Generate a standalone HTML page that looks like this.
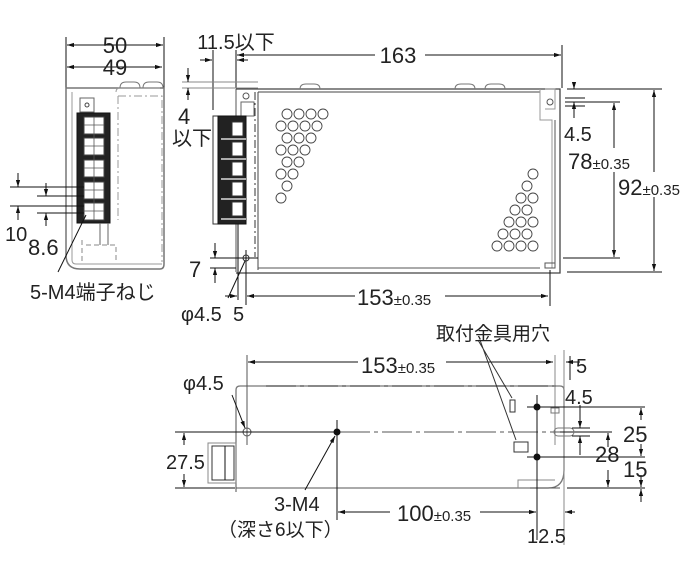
<!DOCTYPE html>
<html><head><meta charset="utf-8"><style>
html,body{margin:0;padding:0;background:#fff;width:692px;height:564px;overflow:hidden}
svg{display:block}
text{font-family:"Liberation Sans","Noto Sans CJK JP",sans-serif;fill:#222}
</style></head><body>
<svg width="692" height="564" viewBox="0 0 692 564" xmlns="http://www.w3.org/2000/svg">
<defs>
<marker id="a" viewBox="0 0 10 10" refX="10" refY="5" markerWidth="7" markerHeight="7" orient="auto-start-reverse"><path d="M0,2 L10,5 L0,8 z" fill="#111"/></marker>
</defs>
<g stroke="#111" stroke-width="1" fill="none">
<line x1="66" y1="37" x2="66" y2="90"/><line x1="164" y1="37" x2="164" y2="90"/>
<line x1="67" y1="45" x2="163" y2="45" marker-start="url(#a)" marker-end="url(#a)"/>
<line x1="67" y1="67" x2="162" y2="67" marker-start="url(#a)" marker-end="url(#a)"/>
<path d="M66,88 H164 V264 Q164,269 160,269 H80 Q66,269 66,255 Z" stroke="#777" stroke-width="1.5"/>
<path d="M72,92 V260 Q72,264 76,264 H162" stroke="#999"/>
<path d="M116,92 Q116,88 120,88 H160" stroke="#999"/>
<path d="M118,96 V220" stroke="#999" stroke-dasharray="8,3,2,3"/>
<path d="M118,96 H162 V262" stroke="#999" stroke-dasharray="8,3,2,3"/>
<path d="M82,240 V262 M86,245 H116 V262" stroke="#888" stroke-dasharray="5,3"/>
<rect x="80" y="98" width="14" height="14" stroke="#666"/><circle cx="87" cy="105" r="2" stroke="#444"/>
<path d="M120,88 q0,-6 6,-6 h8 q6,0 6,6 M143,88 q0,-6 6,-6 h8 q6,0 6,6" stroke="#777"/>
<rect x="77" y="113" width="33" height="110" fill="#222" stroke="#111"/>
<g fill="#fff" stroke="#444">
<rect x="84" y="117" width="20" height="17"/><rect x="84" y="138" width="20" height="17"/><rect x="84" y="160" width="20" height="17"/><rect x="84" y="182" width="20" height="17"/><rect x="84" y="203" width="20" height="17"/>
</g>
<g stroke="#555" stroke-width=".8"><path d="M94,117 V220 M84,125 H104 M84,146 H104 M84,168 H104 M84,190 H104 M84,211 H104"/></g>
<line x1="100" y1="223" x2="100" y2="245" stroke="#666"/><line x1="108" y1="223" x2="108" y2="245" stroke="#666"/>
<line x1="10" y1="187" x2="84" y2="187"/><line x1="10" y1="206" x2="84" y2="206"/>
<line x1="37" y1="196" x2="84" y2="196"/><line x1="37" y1="213" x2="84" y2="213"/>
<line x1="18" y1="173" x2="18" y2="187" marker-end="url(#a)"/><line x1="18" y1="220" x2="18" y2="206" marker-end="url(#a)"/>
<line x1="46" y1="183" x2="46" y2="196" marker-end="url(#a)"/><line x1="46" y1="226" x2="46" y2="213" marker-end="url(#a)"/>
<line x1="58" y1="272" x2="86" y2="215"/>
<line x1="200" y1="60" x2="212" y2="60" marker-end="url(#a)"/><line x1="248" y1="60" x2="237" y2="60" marker-end="url(#a)"/>
<line x1="213" y1="50" x2="213" y2="110"/><line x1="236" y1="50" x2="236" y2="88"/>
<line x1="237" y1="55" x2="375" y2="55" marker-start="url(#a)"/><line x1="425" y1="55" x2="561" y2="55" marker-end="url(#a)"/>
<line x1="562" y1="45" x2="562" y2="88"/>
<line x1="182" y1="82" x2="258" y2="82" stroke="#888"/><line x1="182" y1="88" x2="258" y2="88" stroke="#888"/>
<line x1="188" y1="68" x2="188" y2="82" marker-end="url(#a)"/><line x1="188" y1="100" x2="188" y2="88" marker-end="url(#a)"/>
<line x1="236" y1="89" x2="236" y2="272" stroke="#555"/>
<path d="M236,89 H560 V273 H236" stroke="#444" stroke-width="1.3"/>
<path d="M258,92 V270 M258,92 H540" stroke="#444"/>
<line x1="258" y1="268" x2="540" y2="268" stroke="#555"/>
<path d="M540,89 V120 H552 V268" stroke="#999"/>
<path d="M555,120 V268 H545 V263 H555" stroke="#555"/>
<line x1="255" y1="92" x2="255" y2="257" stroke="#333" stroke-dasharray="8,3,2,3"/>
<path d="M236,258 H258" stroke="#333" stroke-dasharray="4,3"/>
<rect x="241" y="102" width="13" height="14" stroke="#666"/><circle cx="246" cy="96" r="3" stroke="#555"/>
<path d="M300,89 q0,-5 6,-5 h8 q6,0 6,5 M455,89 q0,-5 6,-5 h8 q6,0 6,5 M485,89 q0,-5 6,-5 h8 q6,0 6,5" stroke="#777"/>
<circle cx="550" cy="102" r="3" stroke="#555"/><path d="M545,89 h10 v20 h-10" stroke="#999"/>
<rect x="213" y="116" width="33" height="108" fill="#fff" stroke="#333"/>
<rect x="218" y="116" width="28" height="108" fill="#222"/>
<g fill="#fff" stroke="#333"><rect x="232" y="122" width="11" height="14"/><rect x="232" y="142" width="11" height="14"/><rect x="232" y="162" width="11" height="14"/><rect x="232" y="182" width="11" height="14"/><rect x="232" y="202" width="11" height="14"/></g>
<g stroke="#fff" stroke-width="1.2"><path d="M221,139 H246 M221,159 H246 M221,179 H246 M221,199 H246 M221,219 H246"/></g>
<line x1="238" y1="224" x2="238" y2="300"/><line x1="246" y1="250" x2="246" y2="305"/>
<circle cx="246" cy="258" r="3" stroke="#333"/>
<line x1="210" y1="258" x2="258" y2="258"/><line x1="210" y1="268" x2="236" y2="268"/>
<line x1="215" y1="243" x2="215" y2="258" marker-end="url(#a)"/><line x1="215" y1="283" x2="215" y2="268" marker-end="url(#a)"/>
<line x1="228" y1="298" x2="245" y2="261"/>
<line x1="225" y1="296" x2="237" y2="296" marker-end="url(#a)"/>
<line x1="247" y1="296" x2="355" y2="296" marker-start="url(#a)"/><line x1="445" y1="296" x2="548" y2="296" marker-end="url(#a)"/>
<line x1="550" y1="270" x2="550" y2="306"/>
<line x1="565" y1="102" x2="620" y2="102"/><line x1="563" y1="258" x2="620" y2="258"/>
<line x1="567" y1="89" x2="662" y2="89"/><line x1="567" y1="272" x2="662" y2="272"/>
<line x1="614" y1="103" x2="614" y2="148" marker-start="url(#a)"/><line x1="614" y1="172" x2="614" y2="257" marker-end="url(#a)"/>
<line x1="654" y1="90" x2="654" y2="172" marker-start="url(#a)"/><line x1="654" y1="197" x2="654" y2="271" marker-end="url(#a)"/>
<line x1="574" y1="82" x2="574" y2="89" marker-end="url(#a)"/><line x1="574" y1="118" x2="574" y2="102" marker-end="url(#a)"/>
<line x1="565" y1="98" x2="585" y2="98"/><line x1="565" y1="106" x2="585" y2="106"/>
<g stroke="#444" stroke-width=".9">
<circle cx="287" cy="114" r="5"/><circle cx="299" cy="114" r="5"/><circle cx="311" cy="114" r="5"/><circle cx="323" cy="114" r="5"/>
<circle cx="281" cy="126" r="5"/><circle cx="293" cy="126" r="5"/><circle cx="305" cy="126" r="5"/><circle cx="317" cy="126" r="5"/>
<circle cx="287" cy="138" r="5"/><circle cx="299" cy="138" r="5"/><circle cx="311" cy="138" r="5"/>
<circle cx="281" cy="150" r="5"/><circle cx="293" cy="150" r="5"/><circle cx="305" cy="150" r="5"/>
<circle cx="287" cy="162" r="5"/><circle cx="299" cy="162" r="5"/>
<circle cx="281" cy="174" r="5"/><circle cx="293" cy="174" r="5"/>
<circle cx="287" cy="186" r="5"/><circle cx="281" cy="198" r="5"/>
<circle cx="533" cy="174" r="5"/><circle cx="527" cy="186" r="5"/>
<circle cx="521" cy="198" r="5"/><circle cx="533" cy="198" r="5"/>
<circle cx="515" cy="210" r="5"/><circle cx="527" cy="210" r="5"/>
<circle cx="509" cy="222" r="5"/><circle cx="521" cy="222" r="5"/><circle cx="533" cy="222" r="5"/>
<circle cx="503" cy="234" r="5"/><circle cx="515" cy="234" r="5"/><circle cx="527" cy="234" r="5"/>
<circle cx="497" cy="246" r="5"/><circle cx="509" cy="246" r="5"/><circle cx="521" cy="246" r="5"/><circle cx="533" cy="246" r="5"/>
</g>
<path d="M236,492 V390 Q236,386 240,386 H560 Q564,386 564,390 V470 Q564,488 548,488 H530" stroke="#777" stroke-width="1.3"/>
<line x1="236" y1="488" x2="560" y2="488" stroke="#555"/>
<path d="M266,386 H560" stroke="#888" stroke-width="2" stroke-dasharray="30,4,4,4"/>
<path d="M518,488 V480 H555" stroke="#888"/>
<line x1="247" y1="355" x2="247" y2="445" stroke="#555"/>
<line x1="564" y1="350" x2="564" y2="545" stroke="#888"/>
<line x1="555" y1="355" x2="555" y2="445" stroke="#888"/>
<line x1="248" y1="362" x2="358" y2="362" marker-start="url(#a)"/><line x1="446" y1="362" x2="553" y2="362" marker-end="url(#a)"/>
<line x1="580" y1="362" x2="566" y2="362" marker-end="url(#a)"/>
<line x1="570" y1="356" x2="570" y2="380"/>
<circle cx="247" cy="432" r="4" stroke="#555"/>
<line x1="175" y1="432" x2="340" y2="432"/>
<line x1="340" y1="432" x2="560" y2="432" stroke="#555" stroke-dasharray="30,4,4,4"/>
<line x1="175" y1="488" x2="235" y2="488"/>
<line x1="184" y1="445" x2="184" y2="433" marker-end="url(#a)"/><line x1="184" y1="474" x2="184" y2="487" marker-end="url(#a)"/>
<rect x="208" y="443" width="28" height="40" stroke="#888"/>
<rect x="212" y="446" width="22" height="34" stroke="#333"/><line x1="225" y1="446" x2="225" y2="480"/>
<line x1="232" y1="395" x2="245" y2="428" marker-end="url(#a)"/>
<circle cx="337" cy="432" r="3" fill="#111"/>
<line x1="337" y1="420" x2="337" y2="520"/>
<line x1="305" y1="490" x2="335" y2="436" marker-end="url(#a)"/>
<circle cx="537" cy="407" r="3" fill="#111"/><circle cx="537" cy="457" r="3" fill="#111"/>
<line x1="537" y1="395" x2="537" y2="540"/>
<line x1="527" y1="407" x2="645" y2="407"/><line x1="527" y1="457" x2="645" y2="457"/>
<line x1="567" y1="488" x2="645" y2="488"/>
<line x1="560" y1="432" x2="612" y2="432"/>
<rect x="510" y="400" width="5" height="12" stroke="#333"/><rect x="514" y="442" width="14" height="10" stroke="#333"/>
<path d="M478,340 L512,398 M480,340 L516,440" stroke="#333"/>
<rect x="551" y="408" width="8" height="5" stroke="#777"/>
<path d="M558,428 h12 a4,4 0 0 1 0,8 h-12 a4,4 0 0 1 0,-8" stroke="#777"/>
<line x1="572" y1="428" x2="590" y2="428"/><line x1="572" y1="436" x2="590" y2="436"/>
<line x1="580" y1="405" x2="580" y2="428" marker-end="url(#a)"/><line x1="580" y1="455" x2="580" y2="436" marker-end="url(#a)"/>
<line x1="641" y1="420" x2="641" y2="408" marker-end="url(#a)"/><line x1="641" y1="444" x2="641" y2="456" marker-end="url(#a)"/>
<line x1="641" y1="475" x2="641" y2="487" marker-end="url(#a)"/><line x1="641" y1="502" x2="641" y2="489" marker-end="url(#a)"/>
<line x1="608" y1="447" x2="608" y2="433" marker-end="url(#a)"/><line x1="608" y1="470" x2="608" y2="487" marker-end="url(#a)"/>
<line x1="338" y1="512" x2="390" y2="512" marker-start="url(#a)"/><line x1="480" y1="512" x2="536" y2="512" marker-end="url(#a)"/>
<line x1="575" y1="512" x2="565" y2="512" marker-end="url(#a)"/>
</g>
<g font-size="22">
<text x="115" y="53" text-anchor="middle">50</text>
<text x="115" y="75" text-anchor="middle">49</text>
<text x="236" y="49" text-anchor="middle" font-size="20">11.5以下</text>
<text x="398" y="63" text-anchor="middle">163</text>
<text x="178" y="124">4</text>
<text x="172" y="145" font-size="20">以下</text>
<text x="5" y="241" font-size="20">10</text>
<text x="28" y="255">8.6</text>
<text x="30" y="299" font-size="20">5-M4端子ねじ</text>
<text x="189" y="277">7</text>
<text x="181" y="321" font-size="20">φ4.5</text>
<text x="233" y="321" font-size="20">5</text>
<text x="357" y="305">153<tspan font-size="15">±0.35</tspan></text>
<text x="564" y="141" font-size="20">4.5</text>
<text x="568" y="169">78<tspan font-size="15">±0.35</tspan></text>
<text x="618" y="195">92<tspan font-size="15">±0.35</tspan></text>
<text x="436" y="340" font-size="19">取付金具用穴</text>
<text x="361" y="373">153<tspan font-size="15">±0.35</tspan></text>
<text x="576" y="373" font-size="20">5</text>
<text x="183" y="390" font-size="20">φ4.5</text>
<text x="565" y="404" font-size="20">4.5</text>
<text x="623" y="442">25</text>
<text x="595" y="462">28</text>
<text x="623" y="477">15</text>
<text x="166" y="469" font-size="20">27.5</text>
<text x="274" y="511" font-size="20">3-M4</text>
<text x="218" y="536" font-size="19">（深さ6以下）</text>
<text x="397" y="521">100<tspan font-size="15">±0.35</tspan></text>
<text x="527" y="543" font-size="20">12.5</text>
</g>
</svg>
</body></html>
